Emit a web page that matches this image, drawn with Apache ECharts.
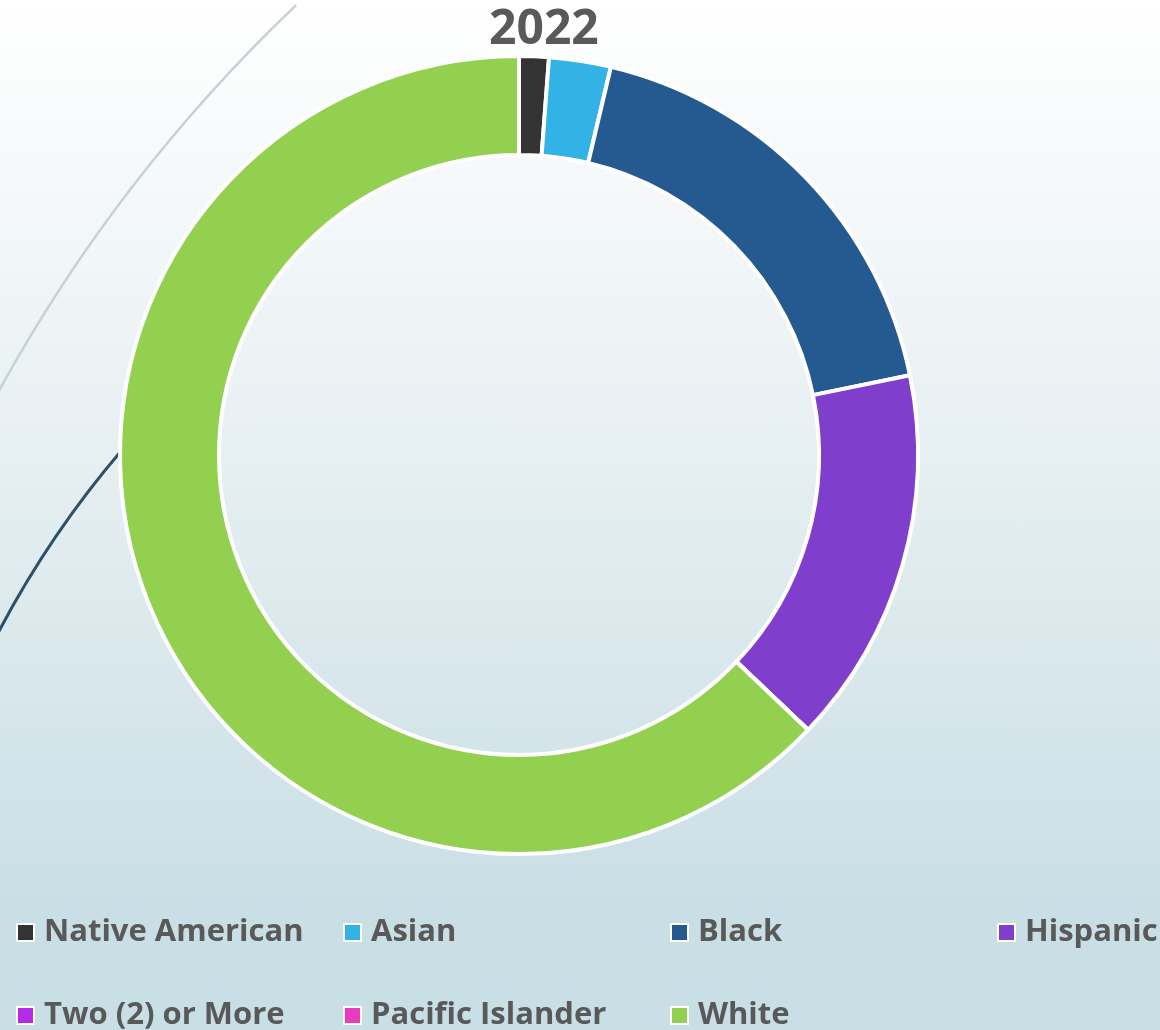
<!DOCTYPE html>
<html>
<head>
<meta charset="utf-8">
<script src="https://cdn.jsdelivr.net/npm/echarts@6/dist/echarts.min.js"></script>
<style>
  html, body { margin: 0; padding: 0; }
  #chart {
    width: 1160px;
    height: 1030px;
    background: linear-gradient(to bottom, #ffffff 0%, #e6eff2 45%, #c9dfe5 88%, #c8dfe5 100%);
  }
</style>
</head>
<body>
<div id="chart"></div>
<script>
  // share of students by group, 2022 (%)
  var groups = ['Native American', 'Asian', 'Black', 'Hispanic', 'Two (2) or More', 'Pacific Islander', 'White'];
  var shares = [1.2, 2.5, 18.1, 15.3, 0, 0, 62.9];
  var colors = ['#333333', '#33b3e5', '#255a91', '#7f3fcc', '#b42ae6', '#e83bbf', '#94d050'];

  var font = '"Open Sans", "DejaVu Sans", sans-serif';
  var textGrey = '#595959';

  var myChart = echarts.init(document.getElementById('chart'));

  // legend sits in a 4 column grid, one small legend per entry
  var colLeft = [11, 338, 665, 992];
  var rowTop = [912, 995];
  var legends = groups.map(function (g, i) {
    return {
      left: colLeft[i % 4],
      top: rowTop[Math.floor(i / 4)],
      data: [g],
      icon: 'rect',
      itemWidth: 17,
      itemHeight: 17,
      itemGap: 0,
      itemStyle: { borderColor: '#ffffff', borderWidth: 2 },
      selectedMode: false,
      textStyle: {
        color: textGrey,
        fontFamily: font,
        fontWeight: 'bold',
        fontSize: 31,
        padding: [0, 0, 0, 5]
      }
    };
  });

  myChart.setOption({
    backgroundColor: 'transparent',
    title: {
      text: '2022',
      left: 484,
      top: 1,
      textStyle: { color: textGrey, fontFamily: font, fontWeight: 'bold', fontSize: 48 }
    },
    legend: legends,
    graphic: [
      {
        type: 'arc',
        z: -1,
        silent: true,
        shape: { cx: 1394, cy: 1158, r: 1592, startAngle: Math.PI * 205 / 180, endAngle: Math.PI * 226.4 / 180 },
        style: { fill: 'none', stroke: '#c6d1d6', lineWidth: 2.5 }
      },
      {
        type: 'arc',
        z: -1,
        silent: true,
        shape: { cx: 873, cy: 1092, r: 988, startAngle: Math.PI * 204 / 180, endAngle: Math.PI * 220.5 / 180 },
        style: { fill: 'none', stroke: '#2c5168', lineWidth: 3 }
      }
    ],
    series: [
      {
        type: 'pie',
        center: [519, 455],
        radius: [300, 399],
        startAngle: 90,
        clockwise: true,
        silent: true,
        label: { show: false },
        labelLine: { show: false },
        itemStyle: { borderColor: '#ffffff', borderWidth: 4 },
        data: groups.map(function (g, i) {
          return { name: g, value: shares[i], itemStyle: { color: colors[i] } };
        })
      }
    ]
  });
</script>
</body>
</html>
